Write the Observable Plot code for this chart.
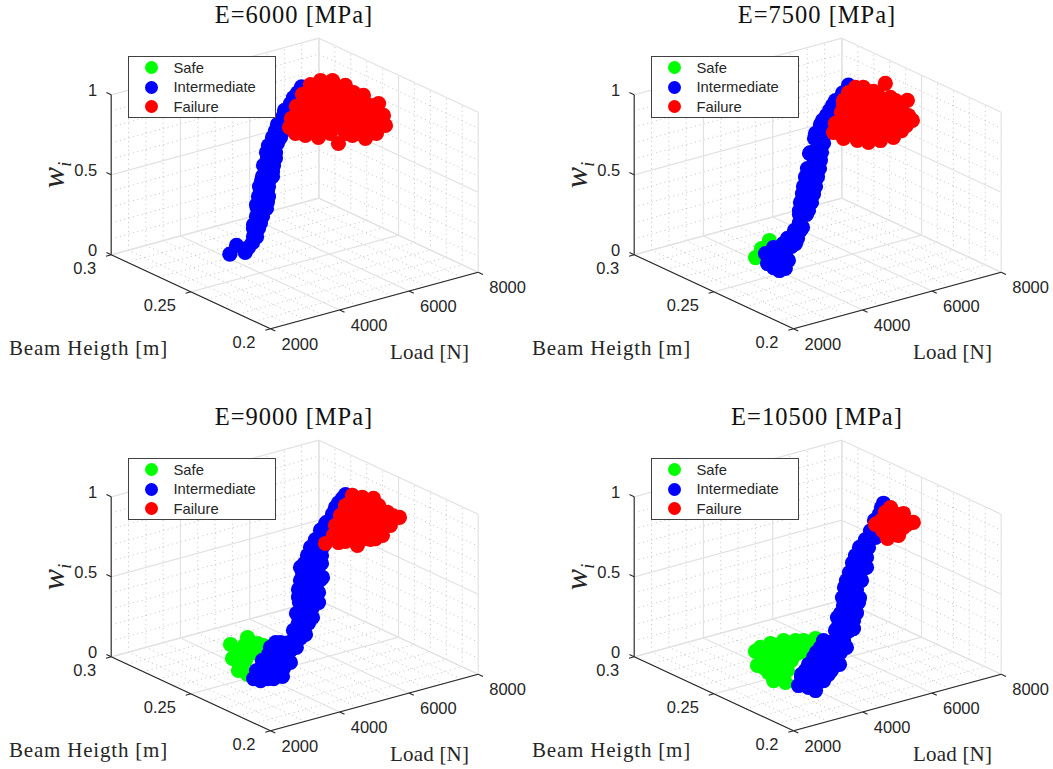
<!DOCTYPE html>
<html><head><meta charset="utf-8">
<script src="https://cdn.jsdelivr.net/npm/d3@7"></script>
<script src="https://cdn.jsdelivr.net/npm/@observablehq/plot@0.6"></script>
<style>
html,body{margin:0;padding:0;background:#fff;overflow:hidden;width:1053px;height:769px}
.panel{position:absolute;width:530px;height:367px}
.panel svg{position:absolute;left:0;top:0;overflow:visible;background:transparent}
.serif{position:absolute;font-family:"Liberation Serif",serif;color:#262626;white-space:nowrap}
.title{left:0;width:588px;text-align:center;top:0;font-size:24.5px;letter-spacing:1px;line-height:30px;color:#111}
.lab-h{left:9px;top:335px;font-size:21px;letter-spacing:.8px;line-height:26px}
.lab-l{left:390px;top:339px;font-size:21px;letter-spacing:.2px;line-height:26px}
.lab-w{left:53px;top:175px;font-size:32px;font-style:italic;line-height:30px;transform:translate(-50%,-50%) rotate(-90deg)}
.lab-w sub{font-size:18px;line-height:0}
.legend{position:absolute;left:127.5px;top:55.5px;width:148px;height:62.4px;box-sizing:border-box;border:1px solid #404040;background:#fff;font:14.8px "Liberation Sans",Arial,sans-serif;color:#262626}
.legend div{position:absolute;left:45px;white-space:nowrap;line-height:18px}
.legend span{position:absolute;width:13px;height:13px;border-radius:50%}
</style></head><body>
<script>
const moduli = [6000, 7500, 9000, 10500];
const loadTicks = [2000, 4000, 6000, 8000];
const loadMinor = [2500, 3000, 3500, 4500, 5000, 5500, 6500, 7000, 7500];
const heightTicks = [0.2, 0.25, 0.3];
const heightLabels = ["0.2", "0.25", "0.3"];
const heightMinor = [0.21, 0.22, 0.23, 0.24, 0.26, 0.27, 0.28, 0.29];
const wTicks = [0, 0.5, 1];
const wMinor = [0.1, 0.2, 0.3, 0.4, 0.6, 0.7, 0.8, 0.9];
const classes = ["Safe", "Intermediate", "Failure"];
const classColors = ["#00ff00", "#0000ff", "#ff0000"];

// [Load N, Beam height m, w]
const safe6000 = [];
const intermediate6000 = [[4184,.273,0],[4147,.268,.08],[4536,.271,0],[4609,.268,.07],[4696,.268,.14],[4753,.268,.19],[4840,.268,.26],[4898,.268,.30],[5042,.268,.30],[4840,.268,.38],[5042,.268,.37],[4869,.268,.44],[5071,.268,.425],[4985,.268,.49],[5187,.268,.48],[5042,.268,.57],[5273,.268,.56],[5071,.268,.65],[5331,.268,.65],[5273,.268,.73],[5476,.268,.71],[5476,.268,.80],[5707,.268,.875],[5909,.268,.93],[6025,.268,.96],[4638,.268,.18],[4840,.268,.18],[4725,.268,.30],
[4638,.268,.107],[4725,.268,.10],[4638,.268,.157],[4782,.268,.149],[4725,.268,.227],[4898,.268,.217],[4753,.268,.275],[5013,.268,.26],[4782,.268,.349],[5071,.268,.331],[4811,.268,.409],[5071,.268,.394],[4898,.268,.467],[5187,.268,.45],[4927,.268,.534],[5216,.268,.517],[5013,.268,.61],[5273,.268,.594],[5187,.268,.694],[5418,.268,.68],[5331,.268,.766],[5505,.268,.756],[5533,.268,.842],[5620,.268,.837],[5793,.268,.907],[4493,.268,.047]];
const failure6000 = [[3965,.2308,1],[3942,.2203,1],[4101,.2156,1],[4229,.2058,1],[4917,.2038,1],[5791,.2102,1],[6147,.2192,1],[6526,.2305,1],[6567,.2409,1],[6502,.2457,1],[6590,.2608,1],[6372,.2636,1],[6032,.2625,1],[6631,.2536,1],[5495,.2559,1],[4915,.2471,1],[4353,.238,1],[5496,.2478,1],[5861,.2431,1],[5833,.23,1],[4699,.2336,1],[5064,.229,1],[5154,.2183,1],[5714,.218,1],[6184,.2282,1],[4503,.2198,1],[4361,.2325,1],[5651,.2323,1],[5980,.2551,1],[5000,.2433,1],[5313,.2055,1],[4798,.2094,1],
[6084,.2606,1],[6267,.2582,1],[6449,.2559,1],[5510,.2544,1],[5692,.2521,1],[5875,.2497,1],[6057,.2474,1],[6239,.2451,1],[6421,.2428,1],[5027,.2469,1],[5209,.2446,1],[5392,.2423,1],[5574,.24,1],[5756,.2377,1],[5938,.2353,1],[6120,.233,1],[6302,.2307,1],[4544,.2396,1],[4726,.2373,1],[4908,.235,1],[5090,.2326,1],[5273,.2303,1],[5455,.228,1],[5637,.2257,1],[5819,.2234,1],[6001,.221,1],[4152,.2311,1],[4334,.2288,1],[4516,.2265,1],[4699,.2241,1],[4881,.2218,1],[5063,.2195,1],[5245,.2172,1],[5427,.2149,1],[3838,.2243,1],[4476,.2162,1],[4749,.2127,1],[5022,.2092,1],
[4047,.2256,1],[4344,.2246,1],[5609,.2125,1],[5231,.2106,1],[4931,.2104,1]];

const safe7500 = [[4103,.2695,0],[5024,.2808,0],[4564,.2758,0]];
const intermediate7500 = [[4030,.2529,0],[4086,.2616,0],[4441,.2706,0],[4039,.2568,0],[4823,.2739,0],[5161,.275,0],[4586,.2594,0],[4618,.2656,0],[5187,.268,.03],[5389,.268,.12],[5562,.268,.215],[5707,.268,.31],[5822,.268,.41],[5909,.268,.51],[5996,.268,.61],[5216,.268,.09],[5302,.268,.23],[5302,.268,.155],[5389,.268,.33],[5476,.268,.43],[5591,.268,.57],[5765,.268,.685],[5967,.268,.755],[6169,.268,.805],[6342,.268,.855],[6545,.268,.89],[6718,.268,.93],[5418,.268,.22],[5533,.268,.32],[5649,.268,.415],[5736,.268,.52],[5851,.268,.60],[5996,.268,.70],
[4235,.2611,0],[4380,.2593,0],[4548,.2679,0],[4766,.2652,0],[5007,.2729,0],[5190,.2706,0],[4217,.2533,0],[4956,.268,.076],[5245,.268,.059],[5158,.268,.114],[5331,.268,.104],[5302,.268,.206],[5505,.268,.194],[5331,.268,.279],[5533,.268,.267],[5649,.268,.26],[5418,.268,.374],[5591,.268,.363],[5765,.268,.353],[5533,.268,.479],[5707,.268,.469],[5880,.268,.459],[5620,.268,.574],[5938,.268,.556],[5765,.268,.566],[5736,.268,.655],[5967,.268,.641],[5909,.268,.732],[6082,.268,.722],[6082,.268,.778],[6227,.268,.77],[6256,.268,.831]];
const failure7500 = [[4151,.2216,1],[4098,.2142,1],[4274,.2093,1],[4397,.205,1],[4693,.2039,1],[5048,.2035,1],[6060,.2136,1],[6753,.2318,1],[7018,.2514,1],[6561,.2383,1],[6316,.2549,1],[6462,.2531,1],[6487,.2473,1],[5993,.2522,1],[5081,.2369,1],[4540,.2289,1],[5574,.24,1],[5820,.2328,1],[6028,.2248,1],[4881,.2218,1],[5245,.2172,1],[5609,.2125,1],[5588,.2466,1],
[6057,.2474,1],[6239,.2451,1],[6421,.2428,1],[5392,.2423,1],[5756,.2377,1],[6120,.233,1],[6393,.2295,1],[5090,.2326,1],[5273,.2303,1],[5455,.228,1],[5637,.2257,1],[5819,.2234,1],[6001,.221,1],[6183,.2187,1],[4608,.2253,1],[5063,.2195,1],[5427,.2149,1],[5755,.2107,1],[4425,.2181,1],[4789,.2135,1],[5062,.21,1],[5280,.2072,1],[6252,.2246,1],
[5770,.2443,1],[5952,.242,1],[6134,.2396,1],[6316,.2373,1],[6534,.2345,1],[5287,.2369,1],[5560,.2335,1],[5833,.23,1],[6015,.2277,1],[4804,.2296,1],[4986,.2273,1],[5168,.225,1],[5350,.2226,1],[5532,.2203,1],[5714,.218,1],[5896,.2157,1],[4320,.2222,1],[4594,.2187,1],[4776,.2164,1],[5049,.2129,1],[5286,.2099,1],[5468,.2075,1]];

const safe9000 = [[4655,.2828,0],[5238,.2848,0],[4142,.2704,0],[3780,.2588,0],[3788,.2533,0],[4486,.2741,0],[5185,.2774,0],[4300,.2657,0],[4759,.2706,0],[5216,.2743,0],[4870,.2787,0]];
const intermediate9000 = [[3740,.2484,0],[3789,.2451,0],[4105,.2438,0],[4347,.2435,0],[4609,.2618,0],[5265,.271,0],[4768,.257,0],[5620,.268,.02],[4679,.2501,0],[5264,.2615,0],[5738,.265,0],[4194,.2509,0],[5196,.2651,0],[5793,.268,.09],[5880,.268,.19],[5938,.268,.29],[5996,.268,.39],[6111,.268,.49],[6285,.268,.58],[6574,.268,.67],[6920,.268,.75],[7094,.268,.81],[7296,.268,.85],[6227,.268,.11],[6429,.268,.22],[6574,.268,.36],[6602,.268,.46],[6631,.268,.56],[6776,.268,.61],[7007,.268,.705],[5996,.268,.03],[6140,.268,.15],[6198,.268,.27],[6285,.268,.37],[6342,.268,.475],[6458,.268,.57],[6718,.268,.70],[5707,.268,.02],
[3995,.2452,0],[4108,.2546,0],[4399,.2509,0],[5041,.2536,0],[4955,.2655,0],[5511,.2638,0],[5643,.2729,0],[4937,.2576,0],[5880,.268,.046],[6140,.268,.044],[5938,.268,.131],[6053,.268,.23],[6342,.268,.20],[5938,.268,.337],[6140,.268,.325],[6371,.268,.311],[6516,.268,.284],[6053,.268,.436],[6256,.268,.424],[6458,.268,.412],[6198,.268,.534],[6400,.268,.522],[6602,.268,.51],[6429,.268,.62],[6574,.268,.612],[6747,.268,.708],[6862,.268,.657],[7007,.268,.786],[7151,.268,.778],[7209,.268,.831],
[5996,.268,.096],[6342,.268,.138],[6516,.268,.221],[6631,.268,.371],[5967,.268,.254],[5996,.268,.471],[4755,.2599,0],[4481,.2539,0],[5251,.2644,0],[5552,.274,0]];
const failure9000 = [[4072,.2105,1],[4347,.2083,1],[4575,.2014,1],[5423,.2041,1],[6438,.2155,1],[6416,.2226,1],[6710,.2377,1],[6548,.2412,1],[6444,.2452,1],[5703,.2302,1],[6012,.2263,1],[5090,.215,1],[5400,.2111,1],[5129,.2241,1],[5755,.2107,1],[4530,.2155,1],[5925,.2382,1],[5048,.2035,1],
[6134,.2396,1],[6316,.2373,1],[6498,.235,1],[5729,.234,1],[5911,.2317,1],[6275,.227,1],[5337,.2255,1],[5574,.2225,1],[5883,.2185,1],[6120,.2155,1],[4854,.2181,1],[5254,.213,1],[5582,.2088,1],[4632,.2101,1],[4996,.2055,1],[5178,.2031,1],
[6161,.2352,1],[6344,.2329,1],[6526,.2305,1],[5442,.2309,1],[5624,.2285,1],[5806,.2262,1],[5988,.2239,1],[6170,.2216,1],[6389,.2188,1],[4959,.2235,1],[5232,.22,1],[5450,.2173,1],[5632,.2149,1],[5960,.2108,1],[4840,.2115,1],[4985,.2097,1],[5240,.2064,1],[4514,.2076,1]];

const safe10500 = [[4664,.2787,0],[4416,.2764,0],[3903,.264,0],[3607,.2474,0],[3747,.243,0],[5003,.2797,0],[5575,.2764,0],[6019,.2735,0],[4910,.2714,0],[5103,.265,0],[4274,.2619,0],[4254,.2528,0],[4327,.2694,0],[5357,.2792,0],[5562,.2699,0],[3830,.2555,0],
[4614,.2725,0],[5174,.2722,0],[5721,.2746,0],[3934,.2515,0],[4536,.2627,0],[4719,.2604,0],[3935,.2609,0],[5288,.2639,0],[4300,.2657,0],[5070,.2762,0]];
const intermediate10500 = [[3980,.2292,0],[3866,.2374,0],[4872,.253,0],[4517,.2358,0],[4281,.2389,0],[6041,.2665,0],[5757,.2647,0],[6139,.2599,0],[5327,.2472,0],[5109,.25,0],[4649,.2451,0],[4353,.2461,0],[4844,.2399,0],[5993,.2617,0],[6400,.268,.07],[6949,.268,.13],[7036,.268,.22],[7094,.268,.325],[7238,.268,.46],[7353,.268,.58],[6487,.268,.155],[6602,.268,.31],[6834,.268,.45],[7036,.268,.535],[7353,.268,.62],[7614,.268,.71],[7729,.268,.77],[6718,.268,.03],[6718,.268,.14],[6805,.268,.235],[6862,.268,.34],[6545,.268,.25],[6660,.268,.35],[7007,.268,.43],[7180,.268,.53],[7556,.268,.63],
[3970,.2334,0],[4235,.2435,0],[4526,.2398,0],[4582,.2486,0],[4873,.2449,0],[5055,.2426,0],[5237,.2578,0],[5419,.2554,0],[5638,.2527,0],[6286,.2674,0],[6450,.2653,0],[6342,.268,.057],[6631,.268,.102],[6862,.268,.088],[6574,.268,.199],[6862,.268,.182],[6718,.268,.291],[6949,.268,.277],[6747,.268,.395],[6949,.268,.383],[7122,.268,.392],[6920,.268,.491],[7094,.268,.481],[7209,.268,.574],[7469,.268,.678],[7671,.268,.747],
[4130,.2381,0],[4294,.236,0],[4480,.2444,0],[4753,.2409,0],[5000,.2514,0],[5218,.2486,0],[5437,.2458,0],[5488,.2614,0],[5706,.2586,0],[5925,.2558,0],[6085,.2699,0],[6230,.2587,0],[6516,.268,.046],[6862,.268,.038],[6400,.268,.134],[6631,.268,.246],[7007,.268,.1925],[6747,.268,.333],[7007,.268,.33],[6978,.268,.444],[7238,.268,.398],[7296,.268,.519],[7498,.268,.57]];
const failure10500 = [[6078,.2134,1],[6249,.2233,1],[6247,.2314,1],[4978,.2057,1],[5295,.2057,1],[5200,.2137,1],[5714,.218,1],[5891,.2131,1],[5384,.2208,1],[5882,.2267,1],[6064,.2243,1],[5609,.2125,1],
[5937,.226,1],[5573,.2225,1],[5445,.2146,1],[6119,.2236,1],[5700,.2114,1],[5280,.2072,1],[5960,.2284,1],[5308,.2205,1]];

const panelData = [
  [safe6000, intermediate6000, failure6000],
  [safe7500, intermediate7500, failure7500],
  [safe9000, intermediate9000, failure9000],
  [safe10500, intermediate10500, failure10500]
];

// Orthographic view of the box, as MATLAB's 3-D axes show it
const view = {ox:270, oy:328.3, lx:207.7, ly:-56.6, hx:-159.3, hy:-74, wy:-160};
const px = (L, H) => view.ox + (L - 2000) / 6000 * view.lx + (H - 0.2) / 0.1 * view.hx;
const py = (L, H, w) => view.oy + (L - 2000) / 6000 * view.ly + (H - 0.2) / 0.1 * view.hy + w * view.wy;
const seg = (a, b) => ({x1: px(a[0], a[1]), y1: py(a[0], a[1], a[2]), x2: px(b[0], b[1]), y2: py(b[0], b[1], b[2])});

function wallLines(Ls, Hs, ws) {
  return [
    ...Ls.map(L => seg([L, .2, 0], [L, .3, 0])),
    ...Ls.map(L => seg([L, .3, 0], [L, .3, 1])),
    ...Hs.map(H => seg([2000, H, 0], [8000, H, 0])),
    ...Hs.map(H => seg([8000, H, 0], [8000, H, 1])),
    ...ws.map(w => seg([2000, .3, w], [8000, .3, w])),
    ...ws.map(w => seg([8000, .3, w], [8000, .2, w]))
  ];
}
const minorLines = wallLines(loadMinor, heightMinor, wMinor);
const majorLines = wallLines(loadTicks, heightTicks, wTicks);
const axisLines = [
  seg([2000, .2, 0], [8000, .2, 0]),
  seg([2000, .2, 0], [2000, .3, 0]),
  seg([2000, .3, 0], [2000, .3, 1]),
  ...loadTicks.map(L => seg([L, .2, 0], [L, .197, 0])),
  ...heightTicks.map(H => seg([2000, H, 0], [1850, H, 0])),
  ...wTicks.map(w => seg([2000, .3, w], [2000, .303, w]))
];
const tickFont = {fontSize: 16.5, fontFamily: "Liberation Sans, Arial, sans-serif", fill: "#262626", lineAnchor: "middle"};

moduli.forEach((E, i) => {
  const panel = document.createElement("div");
  panel.className = "panel";
  panel.style.left = (i % 2) * 523 + "px";
  panel.style.top = Math.floor(i / 2) * 402 + "px";
  const dots = panelData[i].flatMap((rows, c) => rows.map(r => ({x: px(r[0], r[1]), y: py(r[0], r[1], r[2]), c: classes[c]})));
  const chart = Plot.plot({
    width: 530, height: 367, margin: 0,
    x: {domain: [0, 530], range: [0, 530], axis: null},
    y: {domain: [0, 367], range: [0, 367], axis: null},
    color: {domain: classes, range: classColors},
    marks: [
      Plot.link(minorLines, {x1: "x1", y1: "y1", x2: "x2", y2: "y2", stroke: "#b4b4b4", strokeWidth: 0.8, strokeDasharray: "1 3.5"}),
      Plot.link(majorLines, {x1: "x1", y1: "y1", x2: "x2", y2: "y2", stroke: "#e2e2e2", strokeWidth: 1.2}),
      Plot.link(axisLines, {x1: "x1", y1: "y1", x2: "x2", y2: "y2", stroke: "#262626", strokeWidth: 1.1}),
      Plot.dot(dots, {x: "x", y: "y", r: 7.6, fill: "c"}),
      Plot.text(loadTicks, {x: L => px(L, .2), y: L => py(L, .2, 0), text: L => String(L), textAnchor: "start", dx: 11, dy: 16, ...tickFont}),
      Plot.text(heightTicks, {x: H => px(2000, H), y: H => py(2000, H, 0), text: (H, j) => heightLabels[j], textAnchor: "end", dx: -15, dy: 14, ...tickFont}),
      Plot.text(wTicks, {x: w => px(2000, .3), y: w => py(2000, .3, w), text: w => String(w), textAnchor: "end", dx: -14, dy: -4.5, ...tickFont})
    ]
  });
  panel.appendChild(chart);
  const html = `<div class="serif title">E=${E} [MPa]</div>
    <div class="serif lab-h">Beam Heigth [m]</div>
    <div class="serif lab-l">Load [N]</div>
    <div class="serif lab-w">w<sub>i</sub></div>
    <div class="legend">${classes.map((c, k) => `<span style="left:16.5px;top:${[4.5, 24, 43.5][k]}px;background:${classColors[k]}"></span><div style="top:${[2, 21.5, 41][k]}px">${c}</div>`).join("")}</div>`;
  panel.insertAdjacentHTML("beforeend", html);
  document.body.appendChild(panel);
});
</script>
</body></html>
